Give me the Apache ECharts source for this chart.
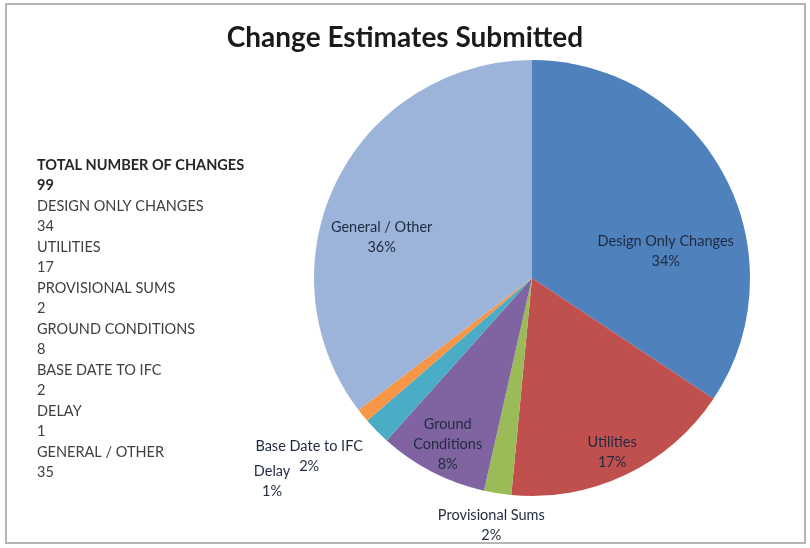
<!DOCTYPE html>
<html>
<head>
<meta charset="utf-8">
<script src="https://cdn.jsdelivr.net/npm/echarts@6/dist/echarts.min.js"></script>
<style>
html,body{margin:0;padding:0;background:#fff;}
#chart{width:810px;height:548px;}
</style>
</head>
<body>
<div id="chart"></div>
<script>
// ---- data ----
var titleText = 'Change Estimates Submitted';
var categories = ['Design Only Changes', 'Utilities', 'Provisional Sums', 'Ground\nConditions', 'Base Date to IFC', 'Delay', 'General / Other'];
var values = [34, 17, 2, 8, 2, 1, 35];
var summaryLabels = ['TOTAL NUMBER OF CHANGES', 'DESIGN ONLY CHANGES', 'UTILITIES', 'PROVISIONAL SUMS', 'GROUND CONDITIONS', 'BASE DATE TO IFC', 'DELAY', 'GENERAL / OTHER'];
var summaryValues = ['99', '34', '17', '2', '8', '2', '1', '35'];

// ---- styles ----
var colors = ['#4F81BD', '#C0504D', '#9BBB59', '#8064A2', '#4BACC6', '#F79646', '#9DB4DA'];
var labelOffsets = [[35, 26], [32, 73], [-23, 137], [-33, 67], [-143, 100], [-173, 133], [-50, 9]];

var lines = [];
summaryLabels.forEach(function (l, i) {
  var st = i === 0 ? 'b' : 'n';
  lines.push('{' + st + '|' + l + '}');
  lines.push('{' + st + '|' + summaryValues[i] + '}');
});

var chart = echarts.init(document.getElementById('chart'), null, {renderer: 'canvas'});
chart.setOption({
  backgroundColor: '#fff',
  animation: false,
  title: [{
    text: titleText,
    left: 'center',
    top: 19,
    textStyle: {fontFamily: 'Lato', fontWeight: 'bold', fontSize: 28, color: '#1a1a1a'}
  }, {
    text: lines.join('\n'),
    left: 32,
    top: 150,
    textStyle: {
      fontWeight: 'normal',
      rich: {
        b: {fontFamily: 'Lato', fontWeight: 'bold', fontSize: 14.5, lineHeight: 20.5, color: '#262626'},
        n: {fontFamily: 'Lato', fontWeight: 'normal', fontSize: 14.5, lineHeight: 20.5, color: '#404040'}
      }
    }
  }],
  graphic: [{
    type: 'rect',
    shape: {x: 6, y: 4, width: 799, height: 539},
    style: {fill: 'none', stroke: '#b5b5b5', lineWidth: 2},
    silent: true,
    z: -1
  }],
  series: [{
    type: 'pie',
    center: [532, 278],
    radius: 218,
    startAngle: 90,
    clockwise: true,
    avoidLabelOverlap: false,
    percentPrecision: 0,
    itemStyle: {borderWidth: 0},
    label: {
      show: true,
      position: 'inside',
      formatter: '{b}\n{d}%',
      fontFamily: 'Lato',
      fontSize: 14.5,
      lineHeight: 20,
      color: '#1f2a3f'
    },
    labelLine: {show: false},
    labelLayout: function (p) {
      var o = labelOffsets[p.dataIndex];
      return {dx: o[0], dy: o[1]};
    },
    data: categories.map(function (c, i) {
      return {name: c, value: values[i], itemStyle: {color: colors[i]}};
    })
  }]
});
</script>
</body>
</html>
